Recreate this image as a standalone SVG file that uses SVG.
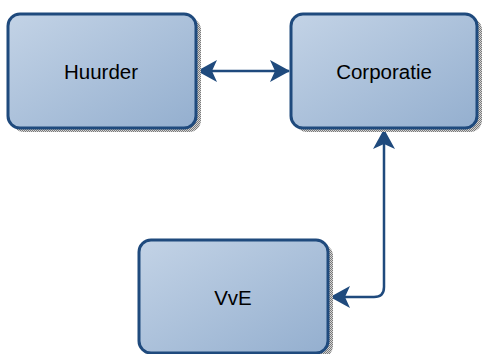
<svg xmlns="http://www.w3.org/2000/svg" width="482" height="354" viewBox="0 0 482 354">
  <defs>
    <linearGradient id="fill" x1="0" y1="0" x2="1" y2="1">
      <stop offset="0" stop-color="#c3d3e6"/>
      <stop offset="1" stop-color="#94afcf"/>
    </linearGradient>
    <pattern id="hatch" width="2" height="2" patternUnits="userSpaceOnUse">
      <rect width="2" height="2" fill="#d4d4d4"/>
      <rect width="1" height="1" fill="#7a7a7a"/>
      <rect x="1" y="1" width="1" height="1" fill="#7a7a7a"/>
    </pattern>
    <marker id="arrow" viewBox="0 0 20 22" refX="19" refY="11" markerWidth="20" markerHeight="22" markerUnits="userSpaceOnUse" orient="auto-start-reverse">
      <path d="M0,0 L20,11 L0,22 L5,11 Z" fill="#1f4a7d"/>
    </marker>
  </defs>
  <style>
    .shadow { fill: url(#hatch); }
    .box { fill: url(#fill); stroke: #1f4a7d; stroke-width: 3; }
    .label { font-family: "Liberation Sans", Arial, sans-serif; font-size: 20.5px; fill: #000; text-anchor: middle; dominant-baseline: central; }
    .edge { fill: none; stroke: #1f4a7d; stroke-width: 2.5; }
  </style>

  <g id="connectors">
    <path class="edge" d="M198,71 L289,71" marker-start="url(#arrow)" marker-end="url(#arrow)"/>
    <path class="edge" d="M384,130 L384,287 Q384,297 374,297 L331,297" marker-start="url(#arrow)" marker-end="url(#arrow)"/>
  </g>

  <g id="huurder">
    <rect class="shadow" x="12" y="18" width="189" height="114" rx="12"/>
    <rect class="box" x="8" y="14" width="188" height="114" rx="12"/>
    <text class="label" x="101" y="71">Huurder</text>
  </g>

  <g id="corporatie">
    <rect class="shadow" x="295" y="18" width="187" height="114" rx="12"/>
    <rect class="box" x="291" y="14" width="186" height="114" rx="12"/>
    <text class="label" x="384" y="71">Corporatie</text>
  </g>

  <g id="vve">
    <rect class="shadow" x="143" y="244" width="190" height="114" rx="12"/>
    <rect class="box" x="139" y="240" width="189" height="113" rx="12"/>
    <text class="label" x="233" y="297">VvE</text>
  </g>
</svg>
